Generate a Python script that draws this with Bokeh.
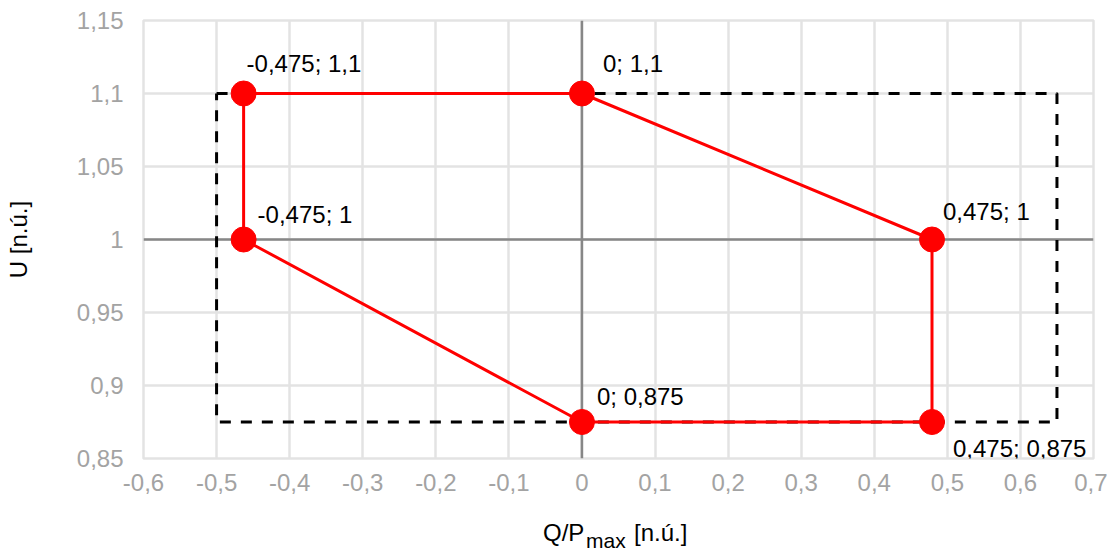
from bokeh.plotting import figure
from bokeh.models import Range1d, FixedTicker, Span, ColumnDataSource, Div
from bokeh.layouts import column
from bokeh.core.properties import value
from bokeh.embed import file_html
from bokeh.resources import INLINE

# ---------------- data ----------------
q_points = [-0.463, 0.0, 0.479, 0.479, 0.0, -0.463]
u_points = [1.1, 1.1, 1.0, 0.875, 0.875, 1.0]
point_labels = ["-0,475; 1,1", "0; 1,1", "0,475; 1", "0,475; 0,875", "0; 0,875", "-0,475; 1"]

limit_q = [-0.5, 0.65, 0.65, -0.5, -0.5]
limit_u = [1.1, 1.1, 0.875, 0.875, 1.1]

x_ticks = [-0.6, -0.5, -0.4, -0.3, -0.2, -0.1, 0.0, 0.1, 0.2, 0.3, 0.4, 0.5, 0.6, 0.7]
x_tick_labels = ["-0,6", "-0,5", "-0,4", "-0,3", "-0,2", "-0,1", "0",
                 "0,1", "0,2", "0,3", "0,4", "0,5", "0,6", "0,7"]
y_ticks = [0.85, 0.9, 0.95, 1.0, 1.05, 1.1, 1.15]
y_tick_labels = ["0,85", "0,9", "0,95", "1", "1,05", "1,1", "1,15"]

x_title_main = "Q/P"
x_title_sub = "max"
x_title_unit = "[n.ú.]"
y_title = "U [n.ú.]"

# ---------------- layout / style ----------------
FONT = "Liberation Sans"
W = 1107
H_PLOT = 500
H_TITLE = 54
BL, BR, BT, BB = 143, 14, 20, 42
XR = (x_ticks[0], x_ticks[-1])
YR = (y_ticks[0], y_ticks[-1])

# label offsets in screen px (dx right, dy down) relative to each point
label_dx = [3, 21, 11, 21, 15, 14]
label_dy = [-30, -30, -28, 26, -26, -25]

p = figure(width=W, height=H_PLOT, output_backend="svg", toolbar_location=None,
           x_range=Range1d(*XR), y_range=Range1d(*YR),
           min_border_left=BL, min_border_right=BR,
           min_border_top=BT, min_border_bottom=BB)
p.background_fill_color = "white"
p.border_fill_color = "white"
p.outline_line_color = "#E3E3E3"
p.outline_line_width = 2.5

xt = FixedTicker(ticks=x_ticks)
yt = FixedTicker(ticks=y_ticks)
p.xaxis.ticker = xt
p.yaxis.ticker = yt
p.xgrid.ticker = xt
p.ygrid.ticker = yt
for g in (p.xgrid, p.ygrid):
    g.grid_line_color = "#E3E3E3"
    g.grid_line_width = 2.5

p.xaxis.major_label_overrides = {t: l for t, l in zip(x_ticks, x_tick_labels)}
p.yaxis.major_label_overrides = {t: l for t, l in zip(y_ticks, y_tick_labels)}

for ax in (p.xaxis, p.yaxis):
    ax.axis_line_color = None
    ax.major_tick_line_color = None
    ax.minor_tick_line_color = None
    ax.major_tick_out = 0
    ax.major_tick_in = 0
    ax.major_label_text_font = FONT
    ax.major_label_text_font_size = "24px"
    ax.major_label_text_color = "#A3A3A3"
p.xaxis.major_label_standoff = 15
p.yaxis.major_label_standoff = 20

p.yaxis.axis_label = y_title
p.yaxis.axis_label_text_font = FONT
p.yaxis.axis_label_text_font_size = "24px"
p.yaxis.axis_label_text_font_style = "normal"
p.yaxis.axis_label_text_color = "black"
p.yaxis.axis_label_standoff = 42

# zero axis lines
p.add_layout(Span(location=0, dimension="height", line_color="#878787", line_width=2.5, level="underlay"))
p.add_layout(Span(location=1, dimension="width", line_color="#878787", line_width=2.5, level="underlay"))

# dashed limit rectangle
p.line(limit_q, limit_u, line_color="black", line_width=3, line_dash="11 10")

# red characteristic
p.line(q_points + q_points[:1], u_points + u_points[:1], line_color="#FF0000", line_width=3)
p.scatter(q_points, u_points, size=25, fill_color="#FF0000", line_color="#FF0000")

src = ColumnDataSource(dict(x=q_points, y=u_points, t=point_labels, dx=label_dx, dy=label_dy))
p.text(x="x", y="y", text="t", x_offset="dx", y_offset="dy", source=src,
       text_font=value(FONT), text_font_size="24px", text_color="black",
       text_align="left", text_baseline="alphabetic")

# x axis title with subscript (HTML below the plot)
span_style = "position:absolute; white-space:nowrap; line-height:1; color:black; font-family:'Liberation Sans', Arial, sans-serif;"
title_html = (
    f'<div style="position:relative; width:{W}px; height:{H_TITLE}px;">'
    f'<span style="{span_style} left:543px; top:21px; font-size:24px;">{x_title_main}</span>'
    f'<span style="{span_style} left:586px; top:30px; font-size:21px;">{x_title_sub}</span>'
    f'<span style="{span_style} left:634px; top:21px; font-size:24px;">{x_title_unit}</span>'
    '</div>'
)
title_div = Div(text=title_html, width=W, height=H_TITLE, margin=0)

layout = column(p, title_div, spacing=0)
open("out.html", "w").write(file_html(layout, INLINE))
